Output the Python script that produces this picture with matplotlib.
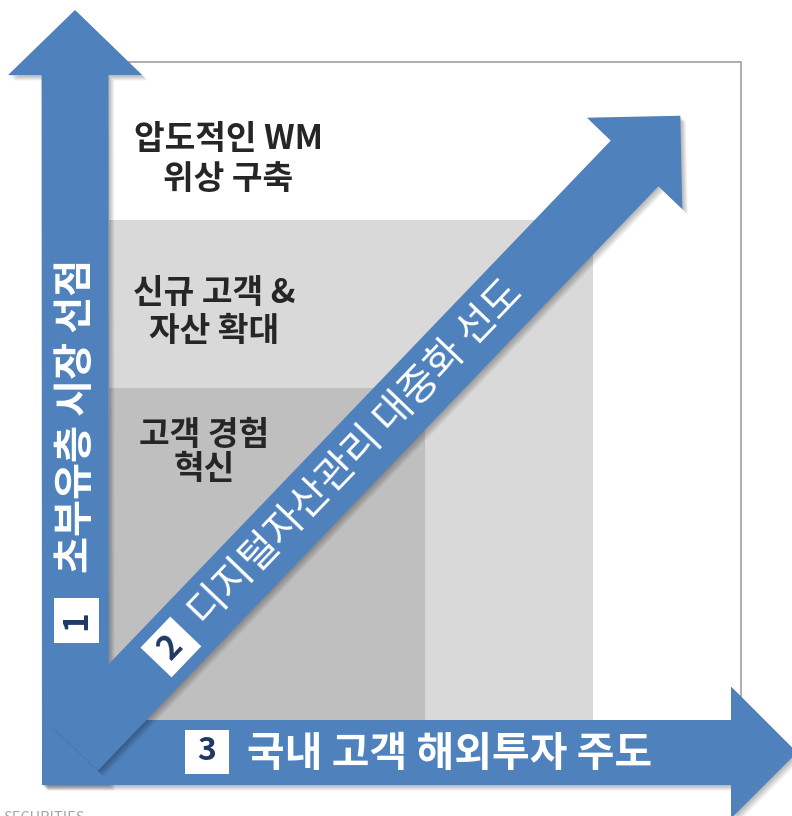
import numpy as np
import matplotlib
matplotlib.use('Agg')
import matplotlib.pyplot as plt
from matplotlib.patches import Polygon, Rectangle

plt.rcParams['font.family'] = ['Noto Sans CJK KR', 'DejaVu Sans']

# text content
quad_labels = [['압도적인 WM', '위상 구축'],
               ['신규 고객 &', '자산 확대'],
               ['고객 경험', '혁신']]
arrow_labels = ['초부유층 시장 선점', '디지털자산관리 대중화 선도', '국내 고객 해외투자 주도']
arrow_nums = ['1', '2', '3']
footer = 'SECURITIES'

BLUE = '#4f81bd'
NAVY = '#1f3864'
TXT = '#262626'
W, H = 792, 816

fig = plt.figure(figsize=(W / 100, H / 100), dpi=100)
ax = fig.add_axes([0, 0, 1, 1])
ax.set_xlim(0, W)
ax.set_ylim(H, 0)
ax.axis('off')


def arrow_pts(tail, tip, w, hw, hl):
    tail = np.array(tail, float)
    tip = np.array(tip, float)
    d = tip - tail
    d /= np.hypot(*d)
    n = np.array([-d[1], d[0]])
    b = tip - d * hl
    return np.array([tail + n * w / 2, b + n * w / 2, b + n * hw / 2, tip,
                     b - n * hw / 2, b - n * w / 2, tail - n * w / 2])


def shaded(pts, z):
    # soft-ish drop shadow, then the arrow itself
    for k in range(1, 8):
        ax.add_patch(Polygon(pts + [k * 0.8, k * 0.8], closed=True, fc='black',
                             ec='none', alpha=0.045, zorder=z))
    ax.add_patch(Polygon(pts, closed=True, fc=BLUE, ec='none', zorder=z + 0.5))


def num_box(c, s, ang, label, fs, z):
    a = np.deg2rad(ang)
    u = np.array([np.cos(a), -np.sin(a)]) * s / 2
    v = np.array([np.sin(a), np.cos(a)]) * s / 2
    c = np.array(c, float)
    pts = np.array([c - u - v, c + u - v, c + u + v, c - u + v])
    ax.add_patch(Polygon(pts, closed=True, fc='white', ec='none', zorder=z))
    ax.text(c[0], c[1], label, rotation=ang, rotation_mode='anchor', ha='center',
            va='center', fontsize=fs, fontweight='bold', color=NAVY, zorder=z + 0.1)


# frame and shaded quadrants
ax.add_patch(Rectangle((75, 62), 741 - 75, 752 - 62, fc='white', ec='#a0a0a0', lw=1.2, zorder=1))
ax.add_patch(Rectangle((109, 220), 593 - 109, 720 - 220, fc='#d9d9d9', ec='none', zorder=2))
ax.add_patch(Rectangle((109, 388), 425 - 109, 720 - 388, fc='#bfbfbf', ec='none', zorder=3))

# quadrant captions
cap_pos = [(228, 139, 179), (214, 293, 331), (204, 435, 470)]
for (x, y1, y2), lines in zip(cap_pos, quad_labels):
    for yy, s in zip((y1, y2), lines):
        ax.text(x, yy, s, ha='center', va='center', fontsize=24, fontweight='bold',
                color=TXT, zorder=4)

# arrows
shaded(arrow_pts((75.5, 785), (75, 10), 67, 134, 65), 5)
shaded(arrow_pts((42, 752.5), (797, 752.5), 65, 132, 66), 6)
ang = 46.2
tail = np.array([74.0, 748.0])
dvec = np.array([np.cos(np.deg2rad(ang)), -np.sin(np.deg2rad(ang))])
shaded(arrow_pts(tail, tail + dvec * 876, 66, 132, 66), 7)

# arrow labels
ax.text(77, 416, arrow_labels[0], rotation=90, rotation_mode='anchor', ha='center',
        va='center', fontsize=29, fontweight='bold', color='white', zorder=9)
num_box((76.5, 620.5), 45, 90, arrow_nums[0], 24, 9)

mid = tail + dvec * 408
ax.text(mid[0], mid[1], arrow_labels[1], rotation=ang, rotation_mode='anchor',
        ha='center', va='center', fontsize=29, color='white', zorder=9)
num_box(tail + dvec * 140, 43, ang, arrow_nums[1], 24, 9)

ax.text(450, 754, arrow_labels[2], ha='center', va='center', fontsize=29.5,
        fontweight='bold', color='white', zorder=9)
num_box((207, 751.5), 44, 0, arrow_nums[2], 23, 9)

ax.text(3, 822, footer, fontsize=10.5, color='#a6a6a6', va='baseline', zorder=9)

fig.savefig('out.png', dpi=100)
